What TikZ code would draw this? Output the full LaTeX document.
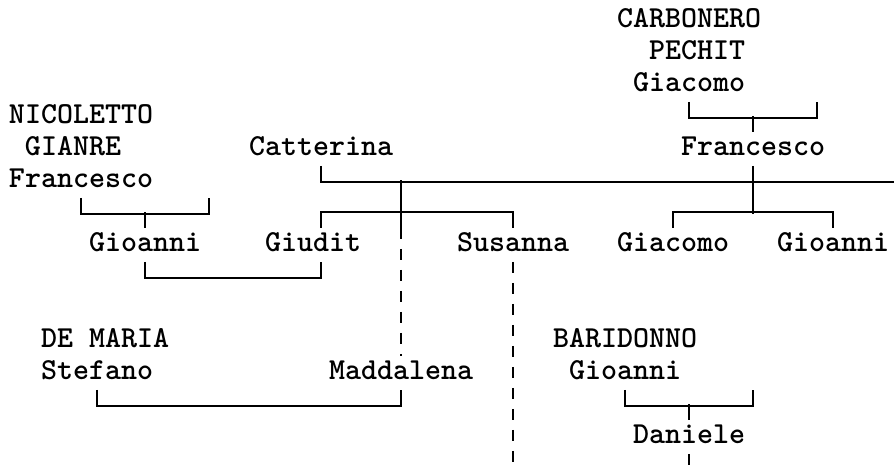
\documentclass[tikz,border=0pt]{standalone}
\begin{document}
\begin{tikzpicture}[x=16pt,y=-32pt,line width=2pt,
  person/.style={anchor=west,inner sep=0pt,text height=23pt,text depth=9pt,
    font=\fontsize{30.48}{32}\selectfont\ttfamily\bfseries},
  descent/.style={dash pattern=on 11pt off 10pt}]
\path[use as bounding box,clip] (-1,-0.656) rectangle (54.875,13.969);
\path (37.5,0) node[person](carbonero){CARBONERO}
(39.5,1) node[person](pechit){PECHIT}
(38.5,2) node[person](giacomoT){Giacomo}
(-0.5,3) node[person](nicoletto){NICOLETTO}
(0.5,4) node[person](gianre){GIANRE}
(14.5,4) node[person](catterina){Catterina}
(41.5,4) node[person](francescoR){Francesco}
(-0.5,5) node[person](francescoL){Francesco}
(4.5,7) node[person](gioanniL){Gioanni}
(15.5,7) node[person](giudit){Giudit}
(27.5,7) node[person](susanna){Susanna}
(37.5,7) node[person](giacomoF){Giacomo}
(47.5,7) node[person](gioanniR){Gioanni}
(1.5,10) node[person](demaria){DE MARIA}
(33.5,10) node[person](baridonno){BARIDONNO}
(1.5,11) node[person](stefano){Stefano}
(19.5,11) node[person](maddalena){Maddalena}
(34.5,11) node[person](gioanniB){Gioanni}
(38.5,13) node[person](daniele){Daniele};
\draw (giacomoT.south) -- ++(0,0.5) -| ++(8,-0.5);
\draw (francescoR.north) -- ++(0,-0.5);
\draw (francescoL.south) -- ++(0,0.5) -| ++(8,-0.5);
\draw (gioanniL.north) -- ++(0,-0.5);
\draw (catterina.south) -- ++(0,0.5) -- ++(36,0);
\draw (francescoR.south) -- ++(0,1.5);
\draw (giacomoF.north) -- ++(0,-0.5) -| (gioanniR.north);
\draw (catterina.south |- giudit.north) -- ++(0,-0.5) -| (susanna.north);
\draw (maddalena.north) ++(0,-4) -- ++(0,-1.5);
\draw[descent] (maddalena.north) ++(0,-4) -- (maddalena.north);
\draw (gioanniL.south) -- ++(0,0.5) -| (catterina.south |- giudit.south);
\draw[descent] (susanna.south) -- ++(0,7);
\draw (stefano.south) -- ++(0,0.5) -| (maddalena.south);
\draw (gioanniB.south) -- ++(0,0.5) -| ++(8,-0.5);
\draw (daniele.north) -- ++(0,-0.5);
\draw[descent] (daniele.south) -- ++(0,1);
\end{tikzpicture}
\end{document}
